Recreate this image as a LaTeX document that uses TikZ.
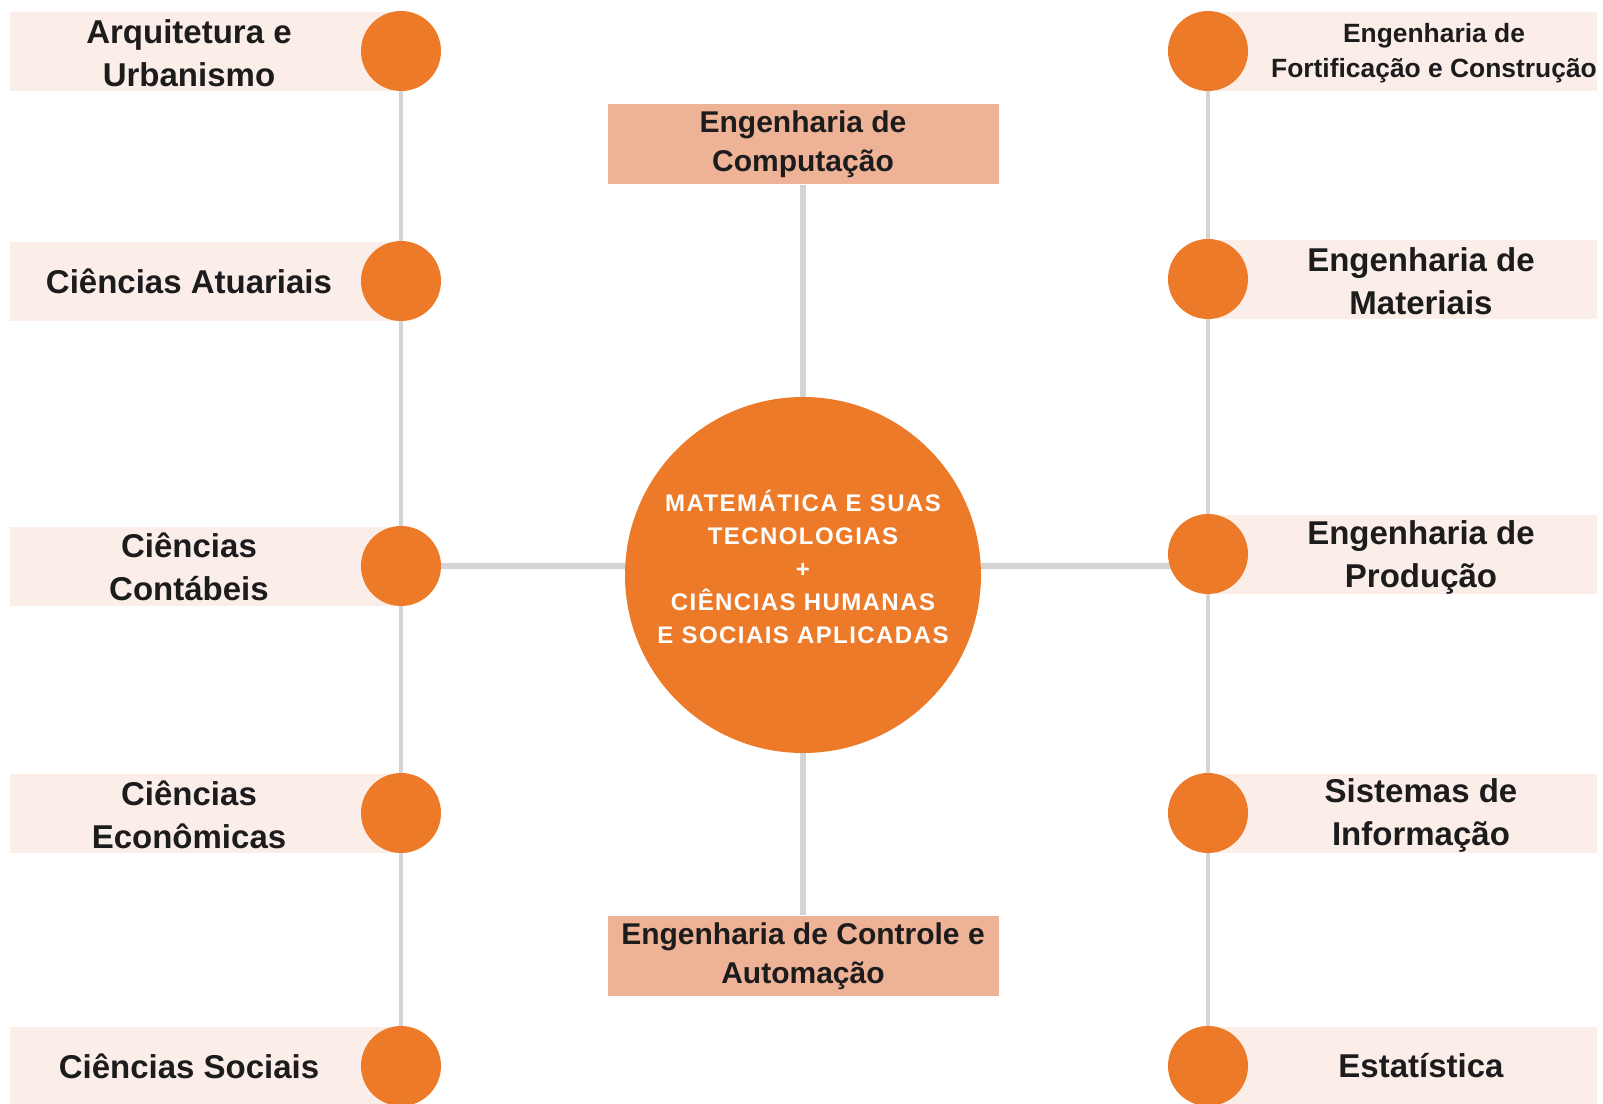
\documentclass[tikz,border=0pt]{standalone}
\usepackage{fontspec}
\setmainfont{Liberation Sans}
\usetikzlibrary{positioning, backgrounds}

\definecolor{dotorange}{HTML}{EC7A28}
\definecolor{boxpeach}{HTML}{FBEEE9}
\definecolor{boxsalmon}{HTML}{EEB296}
\definecolor{linegrey}{HTML}{D4D4D4}
\definecolor{labelink}{HTML}{1C1C1C}

\begin{document}
\begin{tikzpicture}[
    x=0.5pt, y=-0.5pt,
    every node/.style={
        align=center,
        inner sep=0pt,
        text=labelink,
        font=\bfseries\fontsize{16.5}{21.5}\selectfont
    },
    dot/.style={circle, fill=dotorange, minimum size=40pt},
    leftbox/.style={fill=boxpeach, minimum width=192.5pt, minimum height=39.5pt},
    rightbox/.style={fill=boxpeach, minimum width=191pt, minimum height=39.5pt},
    areabox/.style={fill=boxsalmon, minimum width=195.5pt, minimum height=40pt,
        font=\bfseries\fontsize{15}{19.5}\selectfont},
    link/.style={draw=linegrey, line width=3.2pt},
    sidelink/.style={draw=linegrey, line width=2.3pt}
]
\useasboundingbox (0,0) rectangle (1603,1104);

% ------------------------
% Centre: the two areas
% ------------------------
\node (centre) [circle, fill=dotorange, minimum size=178pt] at (803,575) {};
\node (centretext) at (803,567) [text=white,
  font=\bfseries\fontsize{12}{16.5}\selectfont\addfontfeature{LetterSpace=6}]
{MATEMÁTICA E SUAS\\TECNOLOGIAS\\+\\CIÊNCIAS HUMANAS\\E SOCIAIS APLICADAS};

\node (comp) [areabox, above=106pt of centre] {Engenharia de\\ Computação};
\node (ctrl) [areabox, below=81pt of centre] {Engenharia de Controle e\\ Automação};

% ------------------------
% Left column (boxes run on under the dots)
% ------------------------
\node (lb1) [leftbox] at (202.5,51) {};
\node (lb2) [leftbox] at (202.5,281) {};
\node (lb3) [leftbox] at (202.5,566) {};
\node (lb4) [leftbox] at (202.5,813) {};
\node (lb5) [leftbox] at (202.5,1066) {};

\node (lt1) at (189,53) {Arquitetura e\\ Urbanismo};
\node (lt2) at (189,281) {Ciências Atuariais};
\node (lt3) at (189,567) {Ciências\\ Contábeis};
\node (lt4) at (189,815) {Ciências\\ Econômicas};
\node (lt5) at (189,1066) {Ciências Sociais};

\node (l1) [dot] at (401,51) {};
\node (l2) [dot] at (401,281) {};
\node (l3) [dot] at (401,566) {};
\node (l4) [dot] at (401,813) {};
\node (l5) [dot] at (401,1066) {};

% ------------------------
% Right column
% ------------------------
\node (rb1) [rightbox] at (1406,51) {};
\node (rb2) [rightbox] at (1406,279) {};
\node (rb3) [rightbox] at (1406,554) {};
\node (rb4) [rightbox] at (1406,813) {};
\node (rb5) [rightbox] at (1406,1066) {};

\node (rt1) [font=\bfseries\fontsize{13.2}{17.5}\selectfont] at (1434,53)
{Engenharia de\\ Fortificação e Construção};
\node (rt2) at (1421,281) {Engenharia de\\ Materiais};
\node (rt3) at (1421,557) {Engenharia de\\ Produção};
\node (rt4) at (1421,815) {Sistemas de\\ Informação};
\node (rt5) at (1421,1066) {Estatística};

\node (r1) [dot] at (1208,51) {};
\node (r2) [dot] at (1208,279) {};
\node (r3) [dot] at (1208,554) {};
\node (r4) [dot] at (1208,813) {};
\node (r5) [dot] at (1208,1066) {};

% ------------------------
% Connectors
% ------------------------
\begin{scope}[on background layer]
\draw[sidelink] (l1) -- (l2);
\draw[sidelink] (l2) -- (l3);
\draw[sidelink] (l3) -- (l4);
\draw[sidelink] (l4) -- (l5);

\draw[sidelink] (r1) -- (r2);
\draw[sidelink] (r2) -- (r3);
\draw[sidelink] (r3) -- (r4);
\draw[sidelink] (r4) -- (r5);

\draw[link] (l3) -- (l3 -| centre.west);
\draw[link] (l3 -| centre.east) -- (l3 -| r3);
\draw[link] (comp) -- (centre);
\draw[link] (centre) -- (ctrl);
\end{scope}

\end{tikzpicture}
\end{document}
